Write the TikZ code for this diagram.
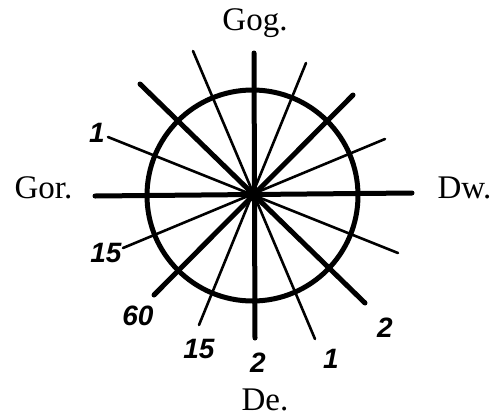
\documentclass[tikz,border=0pt]{standalone}
\usepackage{fontspec}
\setmainfont{Liberation Serif}
\newfontfamily\lblfont{Liberation Sans}
\begin{document}
\begin{tikzpicture}[x=1pt,y=-1pt,
  thickray/.style={line width=5pt,line cap=round},
  thinray/.style={line width=2.6pt,line cap=round},
  ring/.style={line width=5pt},
  dirlabel/.style={inner sep=0pt,anchor=base,font=\fontsize{33}{33}\selectfont},
  numlabel/.style={inner sep=0pt,anchor=base,font=\lblfont\bfseries\itshape\fontsize{28}{28}\selectfont}]
\useasboundingbox (0,0) rectangle (501,416);
\coordinate (c) at (253,195);
% circle
\draw[ring] (252.5,195.5) circle[radius=105.5];
% thick diameters
\coordinate (n) at (254,53);   \coordinate (s) at (255,338);
\coordinate (w) at (95,196);   \coordinate (e) at (412,193);
\coordinate (nw) at (140,84);  \coordinate (se) at (365,303);
\coordinate (ne) at (353,95);  \coordinate (sw) at (154,295);
\draw[thickray] (n) -- (s);
\draw[thickray] (w) -- (e);
\draw[thickray] (nw) -- (se);
\draw[thickray] (ne) -- (sw);
% thin diameters
\coordinate (nnw) at (193,51);  \coordinate (sse) at (315,339);
\coordinate (nne) at (306,63);  \coordinate (ssw) at (199,325);
\coordinate (ene) at (385,139); \coordinate (wsw) at (123,248);
\coordinate (ese) at (398,253); \coordinate (wnw) at (108,137);
\draw[thinray] (nnw) -- (sse);
\draw[thinray] (nne) -- (ssw);
\draw[thinray] (ene) -- (wsw);
\draw[thinray] (ese) -- (wnw);
% centre dot
\fill (c) circle[radius=6.5];
% direction labels
\node[dirlabel] (gog) at (255,30) {Gog.};
\node[dirlabel] (gor) at (43.5,198) {Gor.};
\node[dirlabel] (dw) at (464.5,198) {Dw.};
\node[dirlabel] (de) at (265,410) {De.};
% numbers
\node[numlabel] (l1) at (97,142) {1};
\node[numlabel] (l2) at (106,262) {15};
\node[numlabel] (l3) at (138,325) {60};
\node[numlabel] (l4) at (199,358) {15};
\node[numlabel] (l5) at (258,372) {2};
\node[numlabel] (l6) at (331,368) {1};
\node[numlabel] (l7) at (385,337) {2};
\end{tikzpicture}
\end{document}
